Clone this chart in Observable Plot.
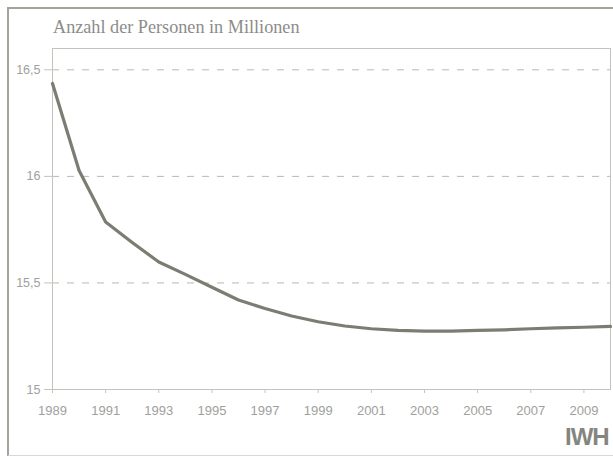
<!DOCTYPE html>
<html><head><meta charset="utf-8">
<script src="https://cdn.jsdelivr.net/npm/d3@7"></script>
<script src="https://cdn.jsdelivr.net/npm/@observablehq/plot@0.6"></script>
<style>
body{margin:0;background:#fff;}
#wrap{position:relative;width:613px;height:457px;overflow:hidden;}
#border{position:absolute;left:7px;top:7px;right:-5px;bottom:1px;border-left:2px solid #a3a39c;border-top:2px solid #a3a39c;border-bottom:1px solid #d8d8d4;pointer-events:none;}
#title{position:absolute;left:53px;top:17px;font-family:"Liberation Serif","DejaVu Serif",serif;font-size:18.2px;color:#8c8c88;white-space:nowrap;}
#iwh{position:absolute;left:565px;top:423px;font-family:"Liberation Sans",Arial,sans-serif;font-weight:bold;font-size:24px;color:#858580;letter-spacing:-1px;}
#chart{position:absolute;left:0;top:0;}
</style></head>
<body>
<div id="wrap">
<div id="chart"></div>
<div id="border"></div>
<div id="title">Anzahl der Personen in Millionen</div>
<div id="iwh">IWH</div>
</div>
<script>
const years = [1989,1990,1991,1992,1993,1994,1995,1996,1997,1998,1999,2000,2001,2002,2003,2004,2005,2006,2007,2008,2009,2010];
const values = [16.436,16.028,15.786,15.69,15.598,15.54,15.48,15.42,15.38,15.345,15.318,15.298,15.285,15.277,15.274,15.274,15.277,15.28,15.285,15.289,15.292,15.296];
const xTicks = [1989,1991,1993,1995,1997,1999,2001,2003,2005,2007,2009];
const yTicks = [15,15.5,16,16.5];
const gridTicks = [15.5,16,16.5];
const yLabels = {15:"15",15.5:"15,5",16:"16",16.5:"16,5"};

const data = years.map((y,i)=>({year:y, value:values[i]}));

const plot = Plot.plot({
  width:613, height:457,
  marginLeft:52, marginRight:3, marginTop:48, marginBottom:68,
  style:{fontFamily:"'Liberation Sans', Arial, sans-serif", fontSize:"13px", color:"#9a9a96", background:"transparent"},
  x:{domain:[1989,2010], label:null},
  y:{domain:[15,16.6], label:null},
  marks:[
    Plot.gridY(gridTicks, {stroke:"#b8b8b4", strokeOpacity:1, strokeDasharray:"7,8"}),
    Plot.frame({stroke:"#c4c4bc"}),
    Plot.axisX({ticks:xTicks, tickFormat:d=>String(d), tickSize:4, tickPadding:12, stroke:"#c4c4bc", fill:"#a0a09c", fontSize:13, label:null}),
    Plot.axisY({ticks:yTicks, tickFormat:d=>yLabels[d], tickSize:8, tickPadding:4, stroke:"#c4c4bc", fill:"#a0a09c", fontSize:12.5, label:null}),
    Plot.line(data, {x:"year", y:"value", stroke:"#7b7d72", strokeWidth:3.2, strokeLinejoin:"round"})
  ]
});
document.getElementById("chart").appendChild(plot);
</script>
</body></html>
